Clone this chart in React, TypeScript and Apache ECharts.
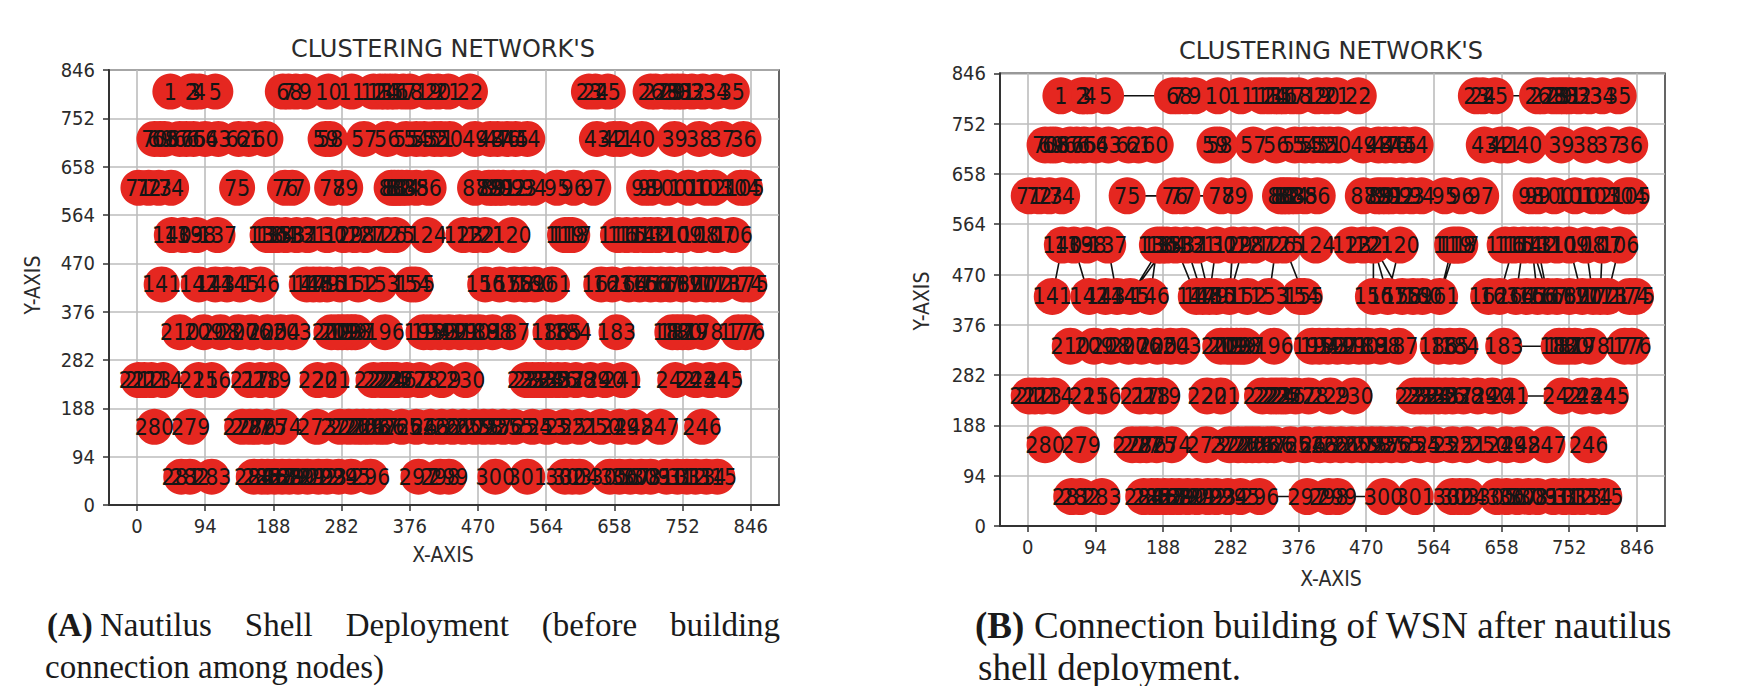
import React, { useEffect, useRef } from "react";
import * as echarts from "echarts";

const titleText = "CLUSTERING NETWORK'S";
const tickValues = [0, 94, 188, 282, 376, 470, 564, 658, 752, 846];
const rowY = [804, 712, 617, 525, 429, 336, 243, 152, 55];

// x of the nodes of each row, in node-number order (35 nodes per row, numbered 1..315)
const row1X = [46,75,79,86,108,201,209,219,232,264,296,326,335,342,349,356,367,376,402,415,429,459,623,632,649,708,715,730,738,745,752,765,780,798,820];
const row2X = [836,806,775,741,696,666,657,634,538,522,510,497,487,466,431,419,410,396,385,371,345,313,266,260,177,154,140,112,94,78,68,59,38,32,24];
const row3X = [2,16,30,47,138,204,214,269,287,351,355,360,365,372,385,402,466,485,491,498,505,519,533,547,579,602,629,699,708,731,760,785,795,832,838];
const row4X = [822,798,775,752,735,718,708,700,688,675,663,600,595,590,517,480,466,450,400,356,345,315,300,285,262,235,220,205,193,186,180,111,82,64,48];
const row5X = [34,85,108,124,142,170,234,243,252,262,280,305,335,378,384,480,500,520,535,548,572,640,655,678,693,708,722,735,752,770,785,795,805,836,844];
const row6X = [839,829,781,760,752,745,738,661,600,586,570,515,490,472,460,445,430,417,405,395,342,301,296,290,283,277,268,214,198,180,158,140,115,92,59];
const row7X = [2,10,20,36,85,103,155,170,186,249,268,326,338,345,352,358,372,390,420,453,537,545,553,560,570,580,590,605,625,645,669,742,770,790,809];
const row8X = [779,721,685,665,640,610,590,565,545,520,505,490,478,465,450,435,420,405,385,365,342,333,321,312,303,292,280,248,200,179,165,156,145,74,24];
const row9X = [61,73,103,161,172,180,190,200,210,222,235,250,262,278,295,322,388,418,430,494,538,590,600,610,652,665,680,695,708,730,745,758,770,785,800];
const rowsX = [row1X, row2X, row3X, row4X, row5X, row6X, row7X, row8X, row9X];

// visible connections of panel B, as pairs of node numbers
const links = [
  [5,6],[25,26],[75,76],[77,78],[182,183],[178,179],[241,242],[296,297],[299,300],
  [140,141],[139,142],[137,144],[136,146],[135,145],[134,145],
  [133,147],[132,148],[131,149],[130,149],[129,151],[128,151],[126,153],[125,155],
  [121,156],[120,157],[121,157],[121,158],[119,161],[118,161],
  [115,163],[114,164],[113,166],[113,167],[112,167],
  [109,170],[108,171],[107,172],[106,173],
];

const nodes: { name: string; value: number[] }[] = [];
rowsX.forEach((xs, r) => xs.forEach((x) => nodes.push({ name: String(nodes.length + 1), value: [x, rowY[r]] })));

const linkData: (number[] | null[])[] = [];
links.forEach(([a, b]) => {
  linkData.push(nodes[a - 1].value, nodes[b - 1].value, [null, null] as any);
});

const narrow = "'DejaVu Sans Condensed', 'DejaVu Sans', sans-serif";
const plain = "'DejaVu Sans', sans-serif";
const serif = "'Liberation Serif', serif";
const ink = "#2b2b2b";
const captionInk = "#1a1a1a";

function axisPair(i: number) {
  const common = {
    gridIndex: i,
    type: "value" as const,
    axisLine: { show: true, onZero: false, lineStyle: { color: "#333", width: 2 } },
    axisTick: { show: true, length: 6, customValues: tickValues, lineStyle: { color: "#333", width: 1.5 } },
    splitLine: { show: true, lineStyle: { color: "#bdbdbd", width: 1.6 } },
    minorTick: { show: false },
  };
  const label = { customValues: tickValues, color: ink, fontFamily: narrow, fontSize: 20 };
  return {
    x: { ...common, min: -38.6, max: 885, axisLabel: { ...label, margin: 11 } },
    y: { ...common, min: 0, max: 846, axisLabel: { ...label, margin: 14 } },
  };
}

function nodeSeries(i: number, size: number) {
  return {
    type: "scatter" as const,
    xAxisIndex: i,
    yAxisIndex: i,
    symbol: "circle",
    symbolSize: size,
    data: nodes,
    z: 3,
    itemStyle: { color: "#e52720", opacity: 1 },
    label: {
      show: true,
      position: "inside" as const,
      formatter: "{b}",
      color: "#151515",
      fontFamily: narrow,
      fontSize: 23,
    },
    emphasis: { disabled: true },
  };
}

function txt(x: number, y: number, text: string, fontSize: number, opts: any = {}) {
  return {
    type: "text",
    x,
    y,
    rotation: opts.rotation || 0,
    style: {
      text,
      fontSize,
      fontFamily: opts.fontFamily || narrow,
      fontWeight: opts.fontWeight || "normal",
      fill: opts.fill || ink,
      align: opts.align || "center",
      verticalAlign: "middle",
    },
  };
}

export default function App() {
  const ref = useRef<HTMLDivElement>(null);
  useEffect(() => {
    const chart = echarts.init(ref.current!, undefined, { renderer: "svg" });
    const a = axisPair(0);
    const b = axisPair(1);
    const cap = { fontFamily: serif, align: "left", fill: captionInk };
    chart.setOption({
      animation: false,
      backgroundColor: "#fff",
      grid: [
        { left: 109, top: 70, width: 670, height: 435, show: true, borderColor: "#333", borderWidth: 1.5, containLabel: false },
        { left: 1000, top: 73.3, width: 665, height: 452.7, show: true, borderColor: "#333", borderWidth: 1.5, containLabel: false },
      ],
      xAxis: [a.x, b.x],
      yAxis: [a.y, b.y],
      series: [
        nodeSeries(0, 36),
        {
          type: "line",
          xAxisIndex: 1,
          yAxisIndex: 1,
          data: linkData,
          showSymbol: false,
          connectNulls: false,
          z: 2,
          lineStyle: { color: "#111", width: 1.6 },
          emphasis: { disabled: true },
        },
        nodeSeries(1, 37),
      ],
      graphic: [
        txt(443, 49, titleText, 24, { fontFamily: plain }),
        txt(1331, 51, titleText, 24, { fontFamily: plain }),
        txt(443, 555, "X-AXIS", 21),
        txt(1331, 579, "X-AXIS", 21),
        txt(33, 285, "Y-AXIS", 21, { rotation: Math.PI / 2 }),
        txt(922, 301, "Y-AXIS", 21, { rotation: Math.PI / 2 }),
        txt(47, 625, "(A)", 33, { ...cap, fontWeight: "bold" }),
        txt(100, 625, "Nautilus    Shell    Deployment    (before    building", 33, cap),
        txt(45, 667, "connection among nodes)", 33, cap),
        txt(975, 625, "(B)", 37, { ...cap, fontWeight: "bold" }),
        txt(1034, 625, "Connection building of WSN after nautilus", 37, cap),
        txt(978, 667, "shell deployment.", 37, cap),
      ],
    });
    return () => chart.dispose();
  }, []);
  return <div ref={ref} style={{ position: "absolute", left: 0, top: 0, width: 1750, height: 686 }} />;
}
